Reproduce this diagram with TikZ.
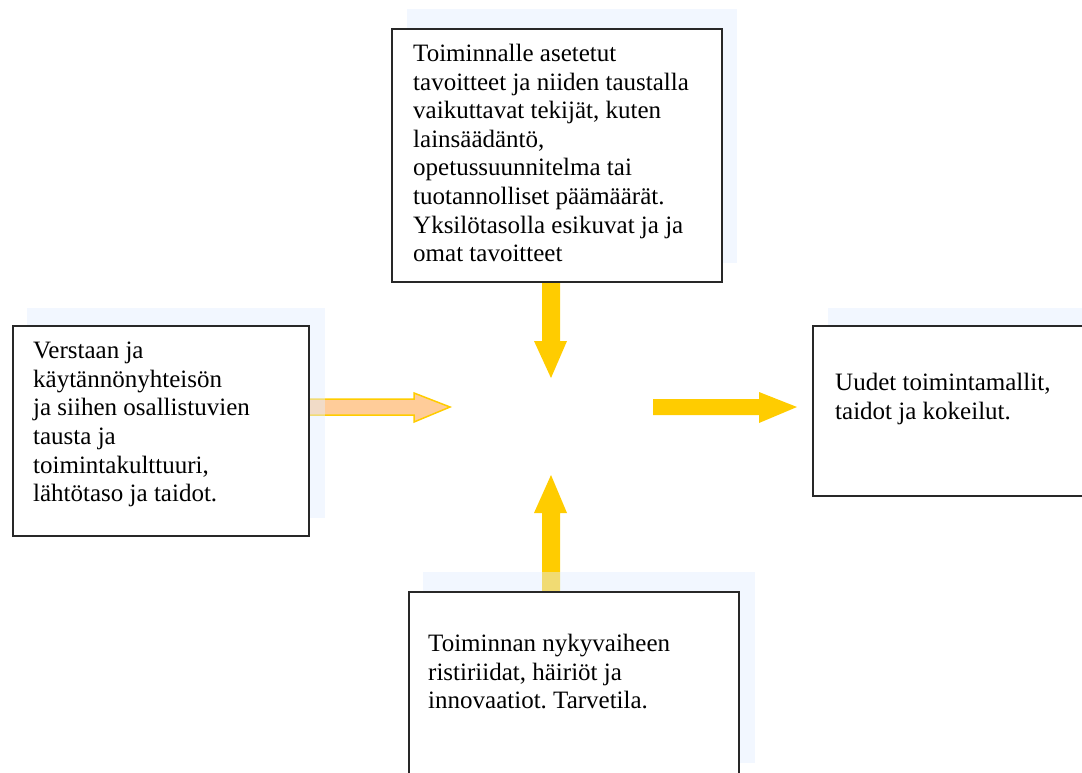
\documentclass[tikz,border=0pt]{standalone}
\usepackage{fontspec}
\setmainfont{Liberation Serif}
\frenchspacing
\begin{document}
\begin{tikzpicture}[x=1pt,y=-1pt,
  shadowbox/.style={fill={rgb,255:red,226;green,238;blue,255},fill opacity=0.45,draw=none},
  framebox/.style={draw={rgb,255:red,40;green,40;blue,40},line width=2pt,fill=white},
  label/.style={anchor=north west,inner sep=0pt,align=left,
    font=\fontsize{25}{28.6}\selectfont},
  goldarrow/.style={fill={rgb,255:red,255;green,204;blue,0},draw=none},
  peacharrow/.style={fill={rgb,255:red,255;green,204;blue,153},
    draw={rgb,255:red,255;green,204;blue,0},line width=1.5pt,line join=miter}]
\useasboundingbox (0,0) rectangle (1082,772);
\clip (0,0) rectangle (1082,772);

% block arrows pointing at the centre of the diagram
\coordinate (hub) at (551,407);
\draw[peacharrow] (308,399) -- (414,399) -- (414,393) -- (hub -| 450,0) -- (414,422) -- (414,415) -- (308,415) -- cycle;
\fill[goldarrow] (653,399) -- (759,399) -- (759,392) -- (797,407) -- (759,423) -- (759,415) -- (653,415) -- cycle;
\fill[goldarrow] (542,270) -- (560,270) -- (560,341) -- (567,341) -- (551,378) -- (534,341) -- (542,341) -- cycle;
\fill[goldarrow] (542,600) -- (560,600) -- (560,513) -- (567,513) -- (551,475) -- (534,513) -- (542,513) -- cycle;

% translucent offset shadows
\fill[shadowbox] (407,9) rectangle (737,263);
\fill[shadowbox] (27,308) rectangle (325,518);
\fill[shadowbox] (828,308) rectangle (1090,478);
\fill[shadowbox] (423,572) rectangle (755,763);

% framed boxes
\node[framebox,anchor=north west,minimum width=330pt,minimum height=253pt,inner sep=0pt] (goals) at (391,28) {};
\node[framebox,anchor=north west,minimum width=296pt,minimum height=210pt,inner sep=0pt] (community) at (12,325) {};
\node[framebox,anchor=north west,minimum width=290pt,minimum height=170pt,inner sep=0pt] (outcomes) at (812,325) {};
\node[framebox,anchor=north west,minimum width=330pt,minimum height=200pt,inner sep=0pt] (tensions) at (408,591) {};

% box texts
\node[label] (goalstext) at (413,44) {Toiminnalle asetetut\\tavoitteet ja niiden taustalla\\vaikuttavat tekijät, kuten\\lainsäädäntö,\\opetussuunnitelma tai\\tuotannolliset päämäärät.\\Yksilötasolla esikuvat ja ja\\omat tavoitteet};
\node[label] (communitytext) at (33,342) {Verstaan ja\\käytännönyhteisön\\ja siihen osallistuvien\\tausta ja\\toimintakulttuuri,\\lähtötaso ja taidot.};
\node[label] (outcomestext) at (835,373) {Uudet toimintamallit,\\taidot ja kokeilut.};
\node[label] (tensionstext) at (428,634) {Toiminnan nykyvaiheen\\ristiriidat, häiriöt ja\\innovaatiot. Tarvetila.};
\end{tikzpicture}
\end{document}
